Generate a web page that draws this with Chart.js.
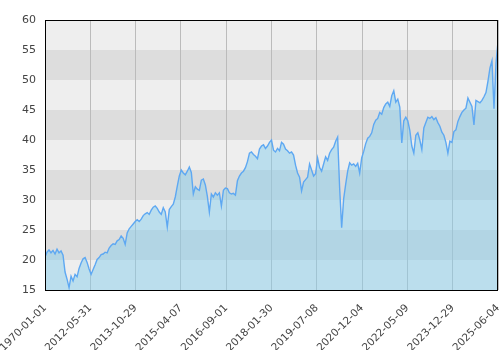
<!DOCTYPE html>
<html>
<head>
<meta charset="utf-8">
<script src="https://cdn.jsdelivr.net/npm/chart.js@4.4.1/dist/chart.umd.min.js"></script>
<style>
  html, body { margin: 0; padding: 0; background: #fff; }
  #wrap { width: 500px; height: 350px; }
</style>
</head>
<body>
<div id="wrap"><canvas id="chart"></canvas></div>
<script>
// tick labels along the bottom (evenly spaced over the series)
const tickLabels = ['1970-01-01', '2012-05-31', '2013-10-29', '2015-04-07', '2016-09-01',
  '2018-01-30', '2019-07-08', '2020-12-04', '2022-05-09', '2023-12-29', '2025-06-04'];

const yTicks = [15, 20, 25, 30, 35, 40, 45, 50, 55, 60];

// values, left to right
const prices = [
  20.5, 21.3, 21.7, 21.2, 21.6, 21.0, 21.8, 21.2, 21.5, 20.8,
  18.0, 16.8, 15.4, 17.3, 16.5, 17.6, 17.2, 18.6, 19.5, 20.2,
  20.4, 19.6, 18.5, 17.6, 18.4, 19.2, 20.1, 20.4, 20.9, 21.0,
  21.3, 21.2, 22.0, 22.4, 22.7, 22.6, 23.2, 23.4, 24.0, 23.6,
  22.6, 24.5, 25.2, 25.6, 26.0, 26.4, 26.7, 26.4, 26.8, 27.4,
  27.7, 27.9, 27.6, 28.3, 28.8, 29.0, 28.6, 28.0, 27.6, 28.7,
  28.0, 25.5, 28.4, 28.9, 29.3, 30.5, 32.3, 34.0, 35.0, 34.5,
  34.2, 34.8, 35.5, 34.6, 31.0, 32.2, 31.8, 31.6, 33.3, 33.5,
  32.5, 30.6, 28.0, 31.0, 30.5, 31.2, 30.8, 31.2, 29.0, 31.6,
  32.0, 31.9, 31.2, 31.0, 31.1, 30.8, 33.2, 34.0, 34.5, 34.8,
  35.4, 36.4, 37.8, 38.0, 37.6, 37.3, 36.9, 38.5, 39.0, 39.2,
  38.6, 39.0, 39.6, 40.0, 38.3, 38.0, 38.6, 38.2, 39.6, 39.3,
  38.5, 38.2, 37.8, 38.0, 37.5, 35.8, 34.5, 33.8, 31.5, 33.0,
  33.4, 33.8, 36.0, 35.0, 34.0, 34.4, 37.0, 35.4, 34.8, 36.0,
  37.2, 36.6, 37.8, 38.4, 38.8, 39.8, 40.5, 32.0, 25.4, 30.2,
  32.6, 34.8, 36.2, 35.8, 36.0, 35.6, 36.1, 34.5, 37.0, 38.1,
  39.4, 40.3, 40.6, 41.2, 42.6, 43.3, 43.6, 44.6, 44.3, 45.4,
  46.0, 46.3, 45.6, 47.4, 48.2, 46.3, 46.8, 45.5, 39.5, 43.2,
  43.8, 43.2, 41.6, 39.0, 37.8, 40.8, 41.2, 40.0, 38.4, 42.0,
  42.9, 43.8, 43.6, 43.9, 43.4, 43.7, 42.9, 42.3, 41.3, 40.8,
  39.6, 37.8, 39.8, 39.6, 41.4, 41.7, 43.1, 43.9, 44.6, 45.0,
  45.3, 47.0, 46.3, 45.6, 42.5, 46.6, 46.4, 46.2, 46.6, 47.2,
  47.9, 49.8, 52.0, 53.2, 45.2, 52.8, 56.4
];

const lastIdx = prices.length - 1;
const tickStep = lastIdx / (tickLabels.length - 1);

// alternating horizontal bands + black frame
const bandsPlugin = {
  id: 'bands',
  beforeDraw(chart) {
    const { ctx, chartArea: a, scales: { y } } = chart;
    ctx.save();
    for (let i = 0; i < yTicks.length - 1; i++) {
      const top = y.getPixelForValue(yTicks[i + 1]);
      const bottom = y.getPixelForValue(yTicks[i]);
      ctx.fillStyle = i % 2 === 0 ? '#eeeeee' : '#dddddd';
      ctx.fillRect(a.left, top, a.right - a.left, bottom - top);
    }
    ctx.restore();
  },
  afterDraw(chart) {
    const { ctx, chartArea: a } = chart;
    ctx.save();
    ctx.strokeStyle = '#000';
    ctx.lineWidth = 1;
    ctx.strokeRect(a.left + 0.5, a.top + 0.5, a.right - a.left - 1, a.bottom - a.top);
    ctx.restore();
  }
};

new Chart(document.getElementById('chart'), {
  type: 'line',
  data: {
    datasets: [{
      data: prices.map((v, i) => ({ x: i, y: v })),
      borderColor: '#5ea8f2',
      backgroundColor: 'rgba(135, 206, 235, 0.5)',
      borderWidth: 1.4,
      fill: 'start',
      pointRadius: 0,
      tension: 0
    }]
  },
  options: {
    responsive: true,
    maintainAspectRatio: false,
    animation: false,
    layout: { padding: { top: 20, right: 2, left: 0, bottom: 0 } },
    plugins: {
      legend: { display: false },
      tooltip: { enabled: false }
    },
    scales: {
      x: {
        type: 'linear',
        min: 0,
        max: lastIdx,
        afterBuildTicks: axis => {
          axis.ticks = tickLabels.map((_, k) => ({ value: k * tickStep }));
        },
        afterFit: axis => {
          axis.height = 60;
          axis.paddingLeft = 0;
          axis.paddingRight = 0;
        },
        grid: { color: '#bbbbbb', drawTicks: false },
        border: { display: false },
        ticks: {
          autoSkip: false,
          maxRotation: 45,
          minRotation: 45,
          padding: 12,
          color: '#444',
          font: { family: 'DejaVu Sans', size: 10.5 },
          callback: value => tickLabels[Math.round(value / tickStep)]
        }
      },
      y: {
        min: 15,
        max: 60,
        afterFit: axis => { axis.width = 45; },
        grid: { display: false, drawTicks: false },
        border: { display: false },
        ticks: {
          stepSize: 5,
          padding: 9,
          color: '#444',
          font: { family: 'DejaVu Sans', size: 11 }
        }
      }
    }
  },
  plugins: [bandsPlugin]
});
</script>
</body>
</html>
